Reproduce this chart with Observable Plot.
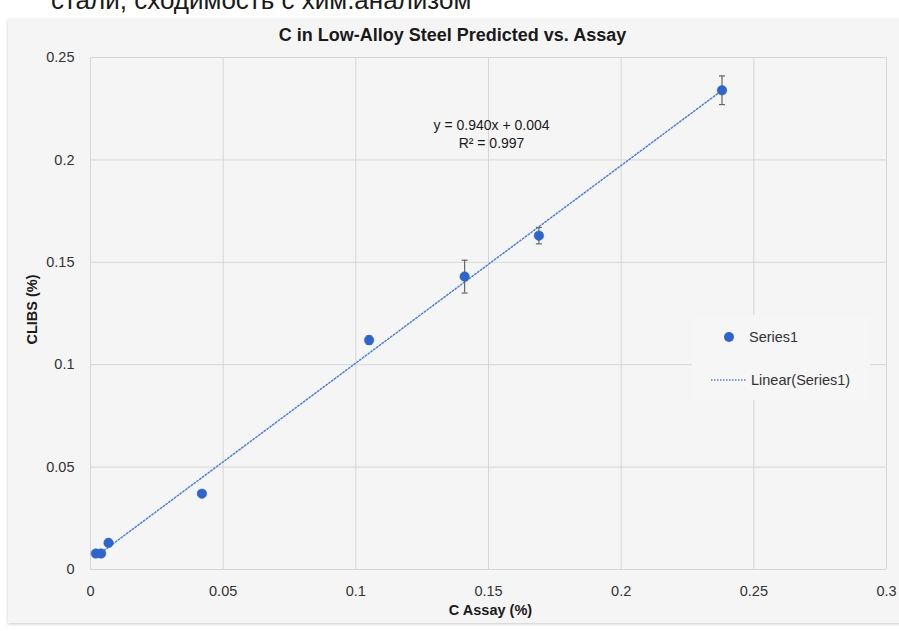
<!DOCTYPE html>
<html>
<head>
<meta charset="utf-8">
<script src="https://cdn.jsdelivr.net/npm/d3@7"></script>
<script src="https://cdn.jsdelivr.net/npm/@observablehq/plot@0.6"></script>
<style>
  html, body { margin: 0; padding: 0; background: #ffffff; }
  #wrap { position: relative; width: 899px; height: 631px; overflow: hidden; font-family: "Liberation Sans", Arial, sans-serif; }
  #caption { position: absolute; left: 51px; top: -13px; font-size: 26px; line-height: 26px; color: #1a1a1a; white-space: nowrap; }
  #panel { position: absolute; left: 8px; top: 19px; width: 895px; height: 604px; background: #f5f5f5; box-shadow: 0 1px 3px rgba(0,0,0,0.22); }
  #chart { position: absolute; left: 0; top: 0; }
  #legend { position: absolute; left: 692px; top: 315px; width: 178px; height: 85px; background: #f6f6f6; font-size: 14.5px; line-height: 17px; color: #333; }
  .lg-row { position: absolute; display: flex; align-items: center; height: 17px; }
</style>
</head>
<body>
<div id="wrap">
  <div id="caption">стали, сходимость с хим.анализом</div>
  <div id="panel"></div>
  <div id="chart"></div>
  <div id="legend">
    <div class="lg-row" style="top:13.5px;left:31px;"><svg width="12" height="12"><circle cx="6" cy="6" r="5" fill="#2f64cc"/></svg><span style="margin-left:14px;">Series1</span></div>
    <div class="lg-row" style="top:56.5px;left:19px;"><svg width="35" height="6"><line x1="0" y1="3" x2="35" y2="3" stroke="#4f7fdc" stroke-width="1.5" stroke-dasharray="1.5,1.5"/></svg><span style="margin-left:5px;">Linear(Series1)</span></div>
  </div>
</div>
<script>
// Data
const cAssay = [0.002, 0.004, 0.0068, 0.042, 0.105, 0.141, 0.169, 0.238];
const cLibs  = [0.0078, 0.0078, 0.013, 0.037, 0.112, 0.143, 0.163, 0.234];
const cErr   = [0, 0, 0, 0, 0.002, 0.008, 0.004, 0.007];
const xTicks = [0, 0.05, 0.1, 0.15, 0.2, 0.25, 0.3];
const yTicks = [0, 0.05, 0.1, 0.15, 0.2, 0.25];
const titleText = "C in Low-Alloy Steel Predicted vs. Assay";
const xLabel = "C Assay (%)";
const yLabel = "CLIBS (%)";
const eqLines = ["y = 0.940x + 0.004", "R² = 0.997"];

const pts = cAssay.map((x, i) => ({x, y: cLibs[i], e: cErr[i]}));
const bars = pts.filter(d => d.e > 0);

const capSymbol = {
  draw(ctx, size) {
    const r = Math.sqrt(size / Math.PI);
    ctx.moveTo(-r, 0);
    ctx.lineTo(r, 0);
  }
};

const fmt = d => d === 0 ? "0" : String(+d.toFixed(2));

const chart = Plot.plot({
  width: 899,
  height: 631,
  marginLeft: 90,
  marginRight: 13,
  marginTop: 57,
  marginBottom: 62,
  style: {background: "transparent", fontFamily: "Liberation Sans, Arial, sans-serif", fontSize: "14.5px", color: "#333"},
  x: {domain: [0, 0.3], label: null},
  y: {domain: [0, 0.25], label: null},
  marks: [
    Plot.gridX(xTicks, {stroke: "#d6d6d6", strokeOpacity: 1, strokeWidth: 1}),
    Plot.gridY(yTicks, {stroke: "#d6d6d6", strokeOpacity: 1, strokeWidth: 1}),
    Plot.axisX({ticks: xTicks, tickFormat: fmt, tickSize: 0, tickPadding: 16, fontSize: 14.5, fill: "#333", label: null}),
    Plot.axisY({ticks: yTicks, tickFormat: fmt, tickSize: 0, tickPadding: 16, fontSize: 14.5, fill: "#333", label: null}),
    Plot.linearRegressionY(pts, {x: "x", y: "y", ci: 0, stroke: "#4f7fdc", strokeWidth: 1.5, strokeDasharray: "1.5,2"}),
    Plot.ruleX(bars, {x: "x", y1: d => d.y - d.e, y2: d => d.y + d.e, stroke: "#666", strokeWidth: 1.2}),
    Plot.dot(bars, {x: "x", y: d => d.y - d.e, symbol: capSymbol, r: 3, stroke: "#666", strokeWidth: 1.2, fill: "none"}),
    Plot.dot(bars, {x: "x", y: d => d.y + d.e, symbol: capSymbol, r: 3, stroke: "#666", strokeWidth: 1.2, fill: "none"}),
    Plot.dot(pts, {x: "x", y: "y", r: 4.8, fill: "#2f64cc", stroke: "#2f64cc", strokeWidth: 0.5}),
    Plot.text([titleText], {frameAnchor: "top", textAnchor: "middle", lineAnchor: "middle", dx: -36, dy: -22, fontSize: 18, fontWeight: "bold", fill: "#1a1a1a"}),
    Plot.text([xLabel], {frameAnchor: "bottom", textAnchor: "middle", lineAnchor: "middle", dx: 2, dy: 41, fontSize: 14.5, fontWeight: "bold", fill: "#1a1a1a"}),
    Plot.text([yLabel], {frameAnchor: "left", textAnchor: "middle", lineAnchor: "middle", dx: -58, dy: -4, rotate: -90, fontSize: 14.5, fontWeight: "bold", fill: "#1a1a1a"}),
    Plot.text([eqLines.join("\n")], {frameAnchor: "top-left", textAnchor: "middle", lineAnchor: "middle", dx: 401, dy: 76, fontSize: 14, fill: "#1a1a1a", lineHeight: 1.29})
  ]
});
document.getElementById("chart").appendChild(chart);
</script>
</body>
</html>
